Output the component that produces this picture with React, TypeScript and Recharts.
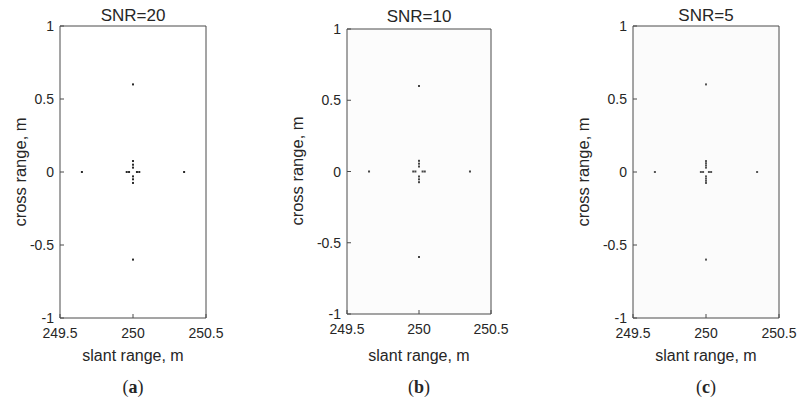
import { ScatterChart, Scatter, XAxis, YAxis, CartesianGrid } from "recharts";

const xTicks = [249.5, 250, 250.5];
const yTicks = [-1, -0.5, 0, 0.5, 1];

const snr20X = [250, 250, 249.65, 250.35, 249.957, 249.973, 250.027, 250.043, 250, 250, 250, 250, 250, 250];
const snr20Y = [0.6, -0.6, 0, 0, 0, 0, 0, 0, 0.03, 0.05, 0.075, -0.03, -0.05, -0.075];

const snr10X = [250, 250, 249.653, 250.354, 249.96, 249.975, 250.025, 250.04, 250, 250, 250, 250, 250, 250];
const snr10Y = [0.6, -0.6, 0, 0, 0, 0, 0, 0, 0.035, 0.055, 0.075, -0.035, -0.055, -0.075];

const snr5X = [250, 250, 249.65, 250.35, 249.965, 249.98, 250.02, 250.035, 250, 250, 250, 250, 250, 250, 250, 250];
const snr5Y = [0.6, -0.6, 0, 0, 0, 0, 0, 0, 0.03, 0.045, 0.06, 0.075, -0.03, -0.045, -0.06, -0.075];

const FONT = '"Liberation Sans", Arial, sans-serif';
const SERIF = '"Liberation Serif", "DejaVu Serif", serif';
const AXIS = "#4a4a4a";
const TEXT = "#262626";
const TICK_MARGIN = 6;
const TICK_LEN = 4;
const PAD_RIGHT = 30;

const toPoints = (xs: number[], ys: number[]) => xs.map((x, i) => ({ x, y: ys[i] }));

const fmt = (v: number) => String(v);

const BottomTick = ({ x, y, payload }: any) => {
  const axisY = y - TICK_MARGIN;
  return (
    <g>
      <line x1={x} y1={axisY} x2={x} y2={axisY - TICK_LEN} stroke={AXIS} />
      <text x={x} y={y} dy="1em" textAnchor="middle" fontSize={14} fill={TEXT} fontFamily={FONT}>
        {fmt(payload.value)}
      </text>
    </g>
  );
};

const LeftTick = ({ x, y, payload }: any) => {
  const axisX = x + TICK_MARGIN;
  return (
    <g>
      <line x1={axisX} y1={y} x2={axisX + TICK_LEN} y2={y} stroke={AXIS} />
      <text x={x} y={y} dy="0.36em" textAnchor="end" fontSize={14} fill={TEXT} fontFamily={FONT}>
        {fmt(payload.value)}
      </text>
    </g>
  );
};

const TopTick = ({ x, y }: any) => <line x1={x} y1={y} x2={x} y2={y + TICK_LEN} stroke={AXIS} />;

const RightTick = ({ x, y }: any) => <line x1={x} y1={y} x2={x - TICK_LEN} y2={y} stroke={AXIS} />;

const makeDot = (color: string) => (props: any) => (
  <rect x={props.cx - 1} y={props.cy - 1} width={2} height={2} fill={color} />
);

interface PanelProps {
  left: number;
  plotRight: number;
  top: number;
  bottom: number;
  data: { x: number; y: number }[];
  color: string;
  bg: string;
}

// plot area spans [left + 60, plotRight] x [top, 398 - bottom]
const Panel = ({ left, plotRight, top, bottom, data, color, bg }: PanelProps) => (
  <div style={{ position: "absolute", left, top: 0 }}>
    <ScatterChart
      width={plotRight - left + PAD_RIGHT}
      height={398}
      margin={{ top: top - 1, right: PAD_RIGHT - 1, bottom: bottom - 30, left: 0 }}
    >
      <CartesianGrid horizontal={false} vertical={false} fill={bg} />
      <XAxis
        type="number"
        dataKey="x"
        domain={[249.5, 250.5]}
        ticks={xTicks}
        allowDataOverflow
        height={30}
        tickSize={0}
        tickMargin={TICK_MARGIN}
        tickLine={false}
        axisLine={{ stroke: AXIS }}
        tick={BottomTick}
        interval={0}
      />
      <XAxis
        xAxisId="top"
        orientation="top"
        type="number"
        domain={[249.5, 250.5]}
        ticks={xTicks}
        height={1}
        tickSize={0}
        tickMargin={0}
        tickLine={false}
        axisLine={{ stroke: AXIS }}
        tick={TopTick}
        interval={0}
      />
      <YAxis
        type="number"
        dataKey="y"
        domain={[-1, 1]}
        ticks={yTicks}
        allowDataOverflow
        width={60}
        tickSize={0}
        tickMargin={TICK_MARGIN}
        tickLine={false}
        axisLine={{ stroke: AXIS }}
        tick={LeftTick}
        interval={0}
      />
      <YAxis
        yAxisId="right"
        orientation="right"
        type="number"
        domain={[-1, 1]}
        ticks={yTicks}
        width={1}
        tickSize={0}
        tickMargin={0}
        tickLine={false}
        axisLine={{ stroke: AXIS }}
        tick={RightTick}
        interval={0}
      />
      <Scatter data={data} shape={makeDot(color)} isAnimationActive={false} />
    </ScatterChart>
  </div>
);

const Txt = ({ x, y, children, rotate, size = 16, family = FONT }: any) => (
  <div
    style={{
      position: "absolute",
      left: x,
      top: y,
      transform: `translate(-50%, -50%)${rotate ? " rotate(-90deg)" : ""}`,
      whiteSpace: "nowrap",
      fontFamily: family,
      fontSize: size,
      color: TEXT,
      lineHeight: 1,
    }}
  >
    {children}
  </div>
);

const App = () => (
  <div style={{ position: "fixed", left: 0, top: 0, width: 800, height: 398, background: "#fff", overflow: "hidden" }}>
    <Panel left={0} plotRight={206} top={26} bottom={80} data={toPoints(snr20X, snr20Y)} color="#2a2a2a" bg="#ffffff" />
    <Panel left={287} plotRight={491} top={29} bottom={84} data={toPoints(snr10X, snr10Y)} color="#454545" bg="#fcfcfc" />
    <Panel left={573} plotRight={779} top={26} bottom={80} data={toPoints(snr5X, snr5Y)} color="#555555" bg="#fbfbfb" />

    <Txt x={133} y={15} size={17}>SNR=20</Txt>
    <Txt x={419} y={16} size={17}>SNR=10</Txt>
    <Txt x={706} y={15} size={17}>SNR=5</Txt>

    <Txt x={20} y={172} rotate size={16.5}>cross range, m</Txt>
    <Txt x={297} y={171} rotate size={16.5}>cross range, m</Txt>
    <Txt x={583} y={172} rotate size={16.5}>cross range, m</Txt>

    <Txt x={133} y={356}>slant range, m</Txt>
    <Txt x={419} y={356}>slant range, m</Txt>
    <Txt x={706} y={356}>slant range, m</Txt>

    <Txt x={133} y={387} size={18} family={SERIF}>(<b>a</b>)</Txt>
    <Txt x={419} y={387} size={18} family={SERIF}>(<b>b</b>)</Txt>
    <Txt x={706} y={387} size={18} family={SERIF}>(<b>c</b>)</Txt>
  </div>
);

export default App;
